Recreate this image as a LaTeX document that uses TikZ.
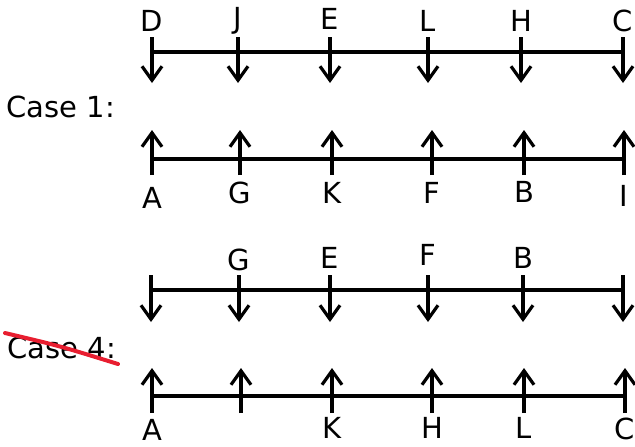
\documentclass[tikz,border=0pt]{standalone}
\usepackage{fontspec}
\setmainfont{DejaVu Sans}
\usetikzlibrary{arrows.meta}
\definecolor{strikered}{RGB}{232,30,48}
\tikzset{
>={Straight Barb[length=7pt,width=10pt]}, % open heads on the ticks
rail/.style={line width=1.6pt},
tick/.style={line width=1.6pt,->},
lbl/.style={font=\fontsize{14.5}{16}\selectfont,inner sep=0pt},
}

\begin{document}
\begin{tikzpicture}[x=0.5pt,y=-0.5pt]
  \useasboundingbox (0,0) rectangle (635,446);

  % Case 1, upper rail
  \foreach \x/\t/\y [count=\i] in {152/D/21, 238/J/21, 330/E/19, 428/L/21, 521/H/21, 623/C/21}{
    \node[lbl] (ua\i) at (\x,\y) {\t};
    \coordinate (uas\i) at (\x,37);
    \coordinate (uat\i) at (\x,83);
    \coordinate (uar\i) at (\x,52);
    \draw[tick] (uas\i) -- (uat\i);
  }
  \draw[rail] (uar1) -- (uar6);

  % Case 1, lower rail
  \foreach \x/\t/\y [count=\i] in {152/A/198, 240/G/193, 332/K/193, 432/F/193, 524/B/192, 624/I/196}{
    \node[lbl] (la\i) at (\x,\y) {\t};
    \coordinate (las\i) at (\x,175);
    \coordinate (lat\i) at (\x,130);
    \coordinate (lar\i) at (\x,159);
    \draw[tick] (las\i) -- (lat\i);
  }
  \draw[rail] (lar1) -- (lar6);

  \node[lbl,anchor=west] (case1) at (6,107) {Case 1:};

  % Case 4, upper rail
  \foreach \x/\t/\y [count=\i] in {151/{}/259, 239/G/260, 330/E/258, 428/F/255, 523/B/258, 623/{}/258}{
    \node[lbl] (ub\i) at (\x,\y) {\t};
    \coordinate (ubs\i) at (\x,275);
    \coordinate (ubt\i) at (\x,322);
    \coordinate (ubr\i) at (\x,290);
    \draw[tick] (ubs\i) -- (ubt\i);
  }
  \draw[rail] (ubr1) -- (ubr6);

  % Case 4, lower rail
  \foreach \x/\t/\y [count=\i] in {152/A/430, 241/{}/428, 332/K/428, 432/H/428, 524/L/428, 625/C/429}{
    \node[lbl] (lb\i) at (\x,\y) {\t};
    \coordinate (lbs\i) at (\x,413);
    \coordinate (lbt\i) at (\x,368);
    \coordinate (lbr\i) at (\x,396);
    \draw[tick] (lbs\i) -- (lbt\i);
  }
  \draw[rail] (lbr1) -- (lbr6);

  \node[lbl,anchor=west] (case4) at (7,348) {Case 4:};
  \coordinate (sk1) at (5,333);
  \coordinate (sk2) at (118,364);
  \draw[strikered,line width=2pt,line cap=round] (sk1) .. controls (60,346) .. (sk2);
\end{tikzpicture}
\end{document}
